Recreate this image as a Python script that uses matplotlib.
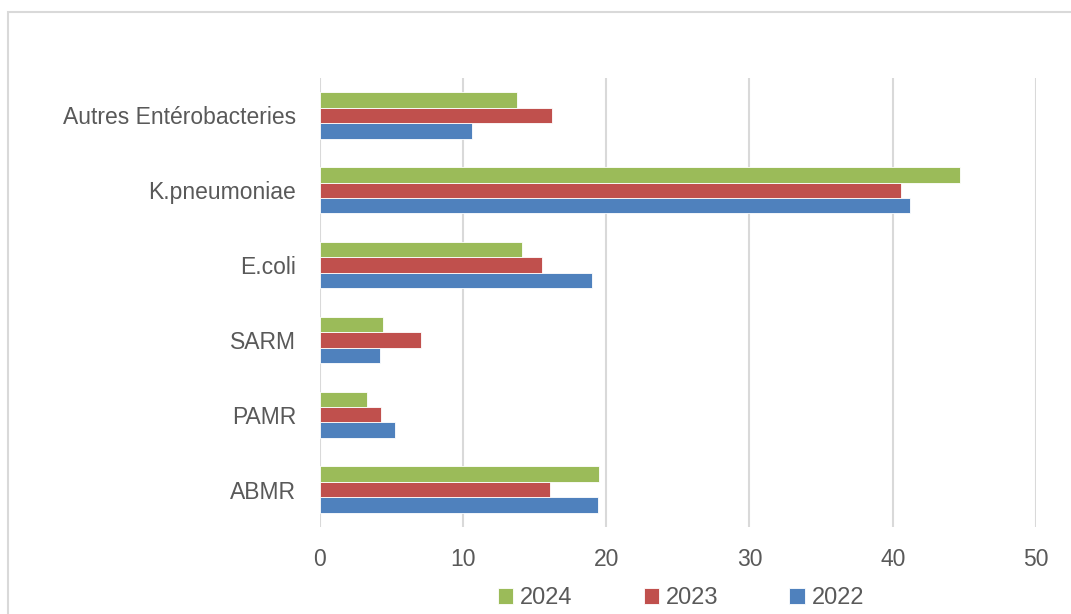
import numpy as np
import matplotlib.pyplot as plt
from matplotlib.patches import Rectangle

# Bacteria groups, bottom to top as drawn
categories = ["ABMR", "PAMR", "SARM", "E.coli", "K.pneumoniae", "Autres Entérobacteries"]
years = ["2022", "2023", "2024"]
values_2022 = [19.4, 5.3, 4.2, 19.05, 41.2, 10.65]
values_2023 = [16.1, 4.3, 7.1, 15.5, 40.6, 16.2]
values_2024 = [19.5, 3.3, 4.4, 14.1, 44.7, 13.8]
colors = ["#4F81BD", "#C0504D", "#9BBB59"]

plt.rcParams["font.family"] = ["Liberation Sans", "DejaVu Sans"]
text_color = "#595959"

fig = plt.figure(figsize=(10.71, 6.14), dpi=100)
ax = fig.add_axes([319.5 / 1071, 1 - 527 / 614, (1036 - 319.5) / 1071, (527 - 78) / 614])

# chart area frame (light gray)
fig.patches.append(Rectangle((8 / 1071, -0.1), 1.2, 1 - 12 / 614 + 0.1,
                             transform=fig.transFigure, fill=False,
                             edgecolor="#D9D9D9", linewidth=1.5, zorder=0))

y = np.arange(len(categories))
h = 0.206
series = [values_2022, values_2023, values_2024]
bars = []
for i, (vals, col) in enumerate(zip(series, colors)):
    b = ax.barh(y + (i - 1) * h, vals, height=h, color=col,
                edgecolor="white", linewidth=0.6, zorder=3)
    bars.append(b)

ax.set_xlim(0, 50)
ax.set_ylim(-0.5, len(categories) - 0.5)
ax.set_xticks(range(0, 51, 10))
ax.set_yticks(y)
ax.set_yticklabels(categories)
ax.xaxis.grid(True, color="#D9D9D9", linewidth=1.5, zorder=0)
ax.tick_params(axis="x", length=0, labelsize=16.5, colors=text_color, pad=15)
ax.tick_params(axis="y", length=0, labelsize=16.5, colors=text_color, pad=17)
for s in ax.spines.values():
    s.set_visible(False)

leg = fig.legend([bars[2], bars[1], bars[0]], ["2024", "2023", "2022"],
                 loc="center", bbox_to_anchor=(681 / 1071, 1 - 598 / 614),
                 ncol=3, frameon=False, fontsize=17, handlelength=0.65,
                 handleheight=0.65, handletextpad=0.3, columnspacing=3.0)
for t in leg.get_texts():
    t.set_color(text_color)

fig.savefig("out.png", dpi=100)
